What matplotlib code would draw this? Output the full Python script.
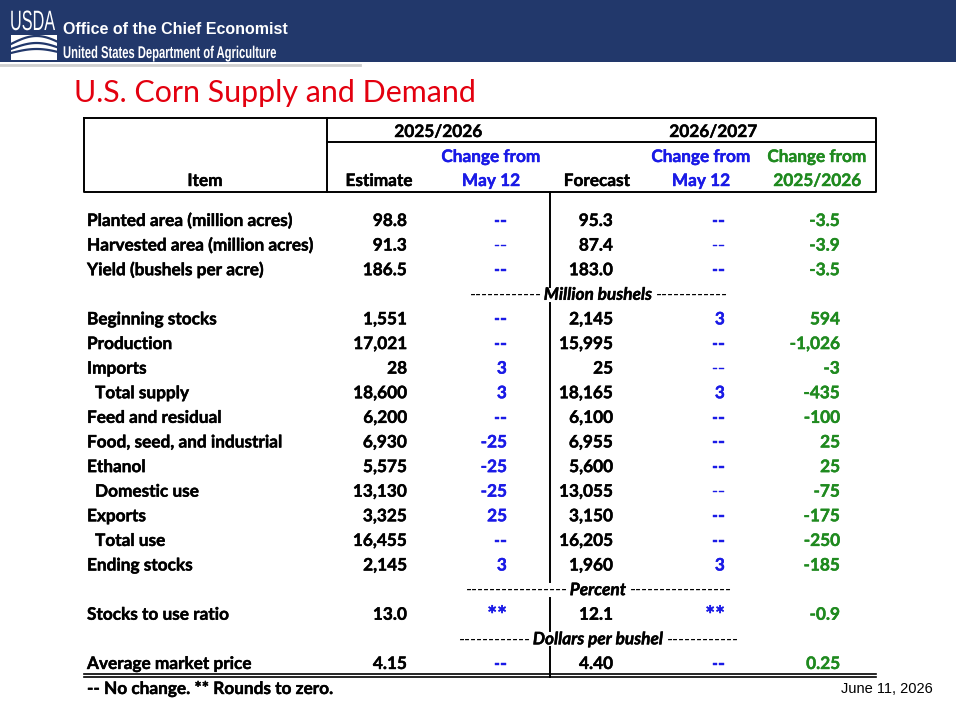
import numpy as np
import matplotlib
matplotlib.use("Agg")
import matplotlib.pyplot as plt
import matplotlib.patheffects as pe
from matplotlib.textpath import TextPath
from matplotlib.patches import PathPatch
from matplotlib.font_manager import FontProperties
from matplotlib.transforms import Affine2D

# table data
items = ["Planted area (million acres)", "Harvested area (million acres)", "Yield (bushels per acre)",
         "Beginning stocks", "Production", "Imports", "Total supply", "Feed and residual",
         "Food, seed, and industrial", "Ethanol", "Domestic use", "Exports", "Total use",
         "Ending stocks", "Stocks to use ratio", "Average market price"]
indent = [0, 0, 0, 0, 0, 0, 1, 0, 0, 0, 1, 0, 1, 0, 0, 0]
est_2526 = ["98.8", "91.3", "186.5", "1,551", "17,021", "28", "18,600", "6,200",
            "6,930", "5,575", "13,130", "3,325", "16,455", "2,145", "13.0", "4.15"]
chg_2526 = ["--", "--", "--", "--", "--", "3", "3", "--",
            "-25", "-25", "-25", "25", "--", "3", "**", "--"]
fcst_2627 = ["95.3", "87.4", "183.0", "2,145", "15,995", "25", "18,165", "6,100",
             "6,955", "5,600", "13,055", "3,150", "16,205", "1,960", "12.1", "4.40"]
chg_2627 = ["--", "--", "--", "3", "--", "--", "3", "--",
            "--", "--", "--", "--", "--", "3", "**", "--"]
chg_year = ["-3.5", "-3.9", "-3.5", "594", "-1,026", "-3", "-435", "-100",
            "25", "25", "-75", "-175", "-250", "-185", "-0.9", "0.25"]
# unit rows inserted before these item indices
unit_labels = ["Million bushels", "Percent", "Dollars per bushel"]
unit_before = [3, 14, 15]
unit_dashes = [12, 17, 12]

navy = "#22386b"
blue = "#1a1ae6"
green = "#1f8a1f"
red = "#e3000f"
font = "Lato"

fig = plt.figure(figsize=(9.56, 7.13), dpi=100)
ax = fig.add_axes([0, 0, 1, 1])
ax.set_xlim(0, 956)
ax.set_ylim(713, 0)
ax.axis("off")


def narrow_text(x, y, s, size, sx, weight="bold"):
    # condensed text drawn as a path, squeezed horizontally
    tp = TextPath((0, 0), s, size=size,
                  prop=FontProperties(family="Liberation Sans", weight=weight))
    tr = Affine2D().scale(sx, -1).translate(x, y) + ax.transData
    ax.add_patch(PathPatch(tp, transform=tr, color="white", lw=0))


# banner
ax.add_patch(plt.Rectangle((0, 0), 956, 62, color=navy, lw=0))
ax.plot([0, 360], [64.5, 64.5], color="#cfcfcf", lw=2)
narrow_text(10, 30, "USDA", 28, 0.58, weight="normal")
ax.add_patch(plt.Rectangle((11, 35), 46, 25, color="white", lw=0))
t = np.linspace(0, 1, 30)
for k, off in enumerate([0, 5, 9]):
    ax.plot(11 + 46 * t, 44 + off - 8 * np.sin(np.pi * t * 0.9) * (1 - 0.25 * k),
            color=navy, lw=1.6)
ax.text(63, 34, "Office of the Chief Economist", color="white", fontsize=11.5,
        fontweight="bold", family="Liberation Sans", va="baseline")
narrow_text(63, 58, "United States Department of Agriculture", 17, 0.66)

# title
ax.text(74, 102, "U.S. Corn Supply and Demand", color=red, fontsize=21.9, family=font,
        va="baseline")

# header box
lw = 1.4
x0, x1, xa, xb = 84, 876, 327, 550
ax.plot([x0, x1, x1, x0, x0], [118, 118, 192, 192, 118], color="black", lw=lw)
ax.plot([xa, xa], [118, 192], color="black", lw=lw)
ax.plot([xa, x1], [141.5, 141.5], color="black", lw=lw)

hs = 12.4


def bt(x, y, s, c="black", ha="center", **kw):
    # bold table text, slightly thickened to look like Calibri Bold
    size = hs * 1.35 if s == "**" else hs
    dy = 3 if s == "**" else 0
    ax.text(x, y + dy, s, color=c, fontsize=size, fontweight="bold", family=font,
            ha=ha, va="baseline",
            path_effects=[pe.withStroke(linewidth=0.3, foreground=c)], **kw)


bt(438, 137, "2025/2026")
bt(713, 137, "2026/2027")
bt(205, 186, "Item")
bt(379, 186, "Estimate")
bt(491, 162, "Change from", blue)
bt(491, 186, "May 12", blue)
bt(597, 186, "Forecast")
bt(701, 162, "Change from", blue)
bt(701, 186, "May 12", blue)
bt(817, 162, "Change from", green)
bt(817, 186, "2025/2026", green)

# body rows
row0, pitch = 220, 24.61
fig.canvas.draw()
rend = fig.canvas.get_renderer()
line = 0
seg_start = 192
for i in range(len(items)):
    if i in unit_before:
        j = unit_before.index(i)
        y = row0 + line * pitch
        w = ax.text(598, y + 6, unit_labels[j], fontsize=hs, fontweight="bold",
                    style="italic", family=font, ha="center", va="baseline",
                    path_effects=[pe.withStroke(linewidth=0.3, foreground="black")])
        bb = w.get_window_extent(rend)
        d = "-" * unit_dashes[j]
        ax.text(598 - bb.width / 2 - 3, y + 6, d, fontsize=hs, style="italic",
                family=font, ha="right", va="baseline")
        ax.text(598 + bb.width / 2 + 3, y + 6, d, fontsize=hs, style="italic",
                family=font, ha="left", va="baseline")
        ax.plot([xb, xb], [seg_start, y - 7], color="black", lw=lw)
        seg_start = y + 9
        line += 1
    y = row0 + line * pitch + 6
    bt(87 + 8 * indent[i], y, items[i], ha="left")
    bt(407, y, est_2526[i], ha="right")
    bt(507, y, chg_2526[i], blue, ha="right")
    bt(613, y, fcst_2627[i], ha="right")
    bt(725, y, chg_2627[i], blue, ha="right")
    bt(840, y, chg_year[i], green, ha="right")
    line += 1

ax.plot([xb, xb], [seg_start, 677], color="black", lw=lw)
ax.plot([x0, x1], [673.5, 673.5], color="black", lw=1.2)
ax.plot([x0, x1], [677, 677], color="black", lw=1.2)

bt(87, 694, "-- No change. ** Rounds to zero.", ha="left")
ax.text(933, 693, "June 11, 2026", fontsize=10.5, family="Liberation Sans",
        ha="right", va="baseline")

fig.savefig("out.png", dpi=100)
